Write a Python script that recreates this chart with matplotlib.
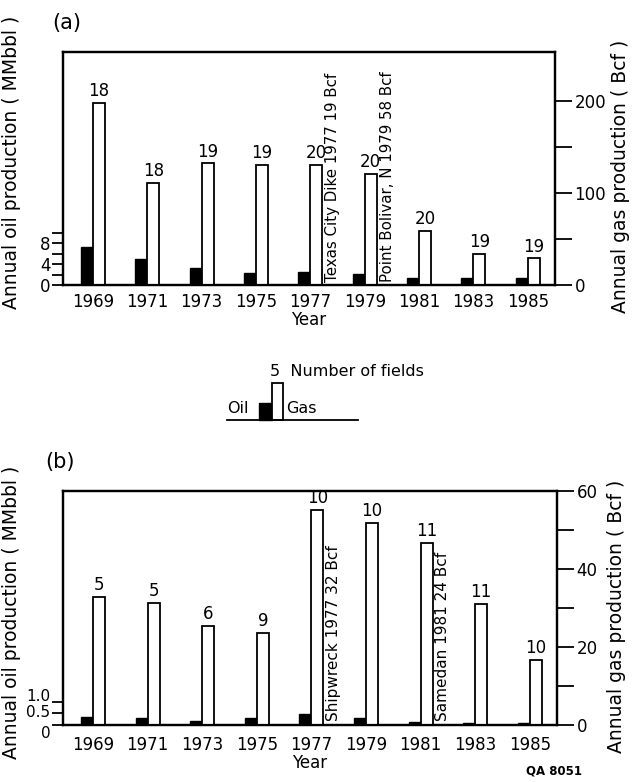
import matplotlib
matplotlib.use('Agg')
import matplotlib.pyplot as plt
from matplotlib.patches import Rectangle
from matplotlib.transforms import ScaledTranslation
import numpy as np

plt.rcParams['font.family'] = ['DejaVu Sans']

years = [1969, 1971, 1973, 1975, 1977, 1979, 1981, 1983, 1985]

# (a) oil in MMbbl, gas in Bcf, number of producing fields
oil_a = [7.3, 4.9, 3.2, 2.3, 2.5, 2.1, 1.3, 1.3, 1.3]
gas_a = [198, 111, 132, 130, 130, 121, 59, 34, 29]
fields_a = [18, 18, 19, 19, 20, 20, 20, 19, 19]
notes_a = [(1977, 'Texas City Dike 1977 19 Bcf'),
           (1979, 'Point Bolivar, N 1979 58 Bcf')]

# (b)
oil_b = [0.35, 0.30, 0.17, 0.30, 0.48, 0.30, 0.13, 0.09, 0.09]
gas_b = [32.8, 31.3, 25.4, 23.6, 55.1, 51.8, 46.7, 31.0, 16.7]
fields_b = [5, 5, 6, 9, 10, 10, 11, 11, 10]
notes_b = [(1977, 'Shipwreck 1977 32 Bcf'),
           (1981, 'Samedan 1981 24 Bcf')]

W, H = 632, 782
fig = plt.figure(figsize=(W / 100, H / 100), dpi=100)


def panel(rect, oil, gas, fields, notes, oil_top, oil_ticks, oil_labels,
          label_shift, label_size, gas_top, gas_major, gas_minor, note_size,
          xpad):
    ax = fig.add_axes(rect)
    ax2 = ax.twinx()
    x = np.array(years, dtype=float)
    w = 0.44
    ax.bar(x - w / 2, oil, w, color='black', edgecolor='black', linewidth=1.0)
    ax2.bar(x + w / 2, gas, w, color='white', edgecolor='black', linewidth=1.3)
    for xi, g, n in zip(x, gas, fields):
        ax2.annotate(str(n), (xi + w / 2, g), xytext=(0, 2),
                     textcoords='offset points', ha='center', va='bottom',
                     fontsize=12)
    for yr, txt in notes:
        ax2.text(yr + 0.82, gas_top * 0.015, txt, rotation=90, ha='center',
                 va='bottom', fontsize=note_size)

    ax.set_xlim(1967.9, 1986.0)
    ax.set_ylim(0, oil_top)
    ax2.set_ylim(0, gas_top)
    ax.set_xticks(years)
    ax.set_xticklabels([str(y) for y in years])
    ax.tick_params(axis='x', length=0, labelsize=12, pad=xpad)
    ax.set_yticks(oil_ticks)
    ax.set_yticklabels(oil_labels)
    ax.tick_params(axis='y', direction='out', length=8, width=1.3,
                   labelsize=label_size, pad=1)
    # hand-lettered labels sit a little off their ticks
    for lab, dy in zip(ax.get_yticklabels(), label_shift):
        lab.set_transform(lab.get_transform()
                          + ScaledTranslation(0, dy / 72, fig.dpi_scale_trans))
    ax2.set_yticks(gas_major)
    ax2.set_yticks(gas_minor, minor=True)
    ax2.tick_params(axis='y', which='both', direction='out', length=12,
                    width=1.3, labelsize=12, pad=2)
    for a in (ax, ax2):
        for s in a.spines.values():
            s.set_linewidth(1.6)
    ax.set_xlabel('Year', fontsize=12, labelpad=0)
    return ax, ax2


# (a)
ax_a, ax2_a = panel([63 / W, 1 - 285 / H, 492 / W, 233 / H],
                    oil_a, gas_a, fields_a, notes_a,
                    44.4, [0, 2, 4, 6, 8, 10], ['0', '', '4', '', '8', ''],
                    [0, 0, 0, 0, 0, 0], 12,
                    253, [0, 100, 200], [50, 150], 10.8, 6)

# (b)
ax_b, ax2_b = panel([63 / W, 1 - 725 / H, 494 / W, 234 / H],
                    oil_b, gas_b, fields_b, notes_b,
                    10.17, [0, 0.5, 1.0], ['0', '0.5', '1.0'],
                    [-5, 2, 5], 11,
                    60, [0, 20, 40, 60], [10, 30, 50], 11, 8)

# axis titles
fig.text(12 / W, 1 - 162 / H, 'Annual oil production ( MMbbl )', rotation=90,
         ha='center', va='center', fontsize=13.5)
fig.text(12 / W, 1 - 612 / H, 'Annual oil production ( MMbbl )', rotation=90,
         ha='center', va='center', fontsize=13.5)
fig.text(620 / W, 1 - 176 / H, 'Annual gas production ( Bcf )', rotation=90,
         ha='center', va='center', fontsize=13.5)
fig.text(616 / W, 1 - 616 / H, 'Annual gas production ( Bcf )', rotation=90,
         ha='center', va='center', fontsize=13.5)

fig.text(52 / W, 1 - 23 / H, '(a)', fontsize=15, va='center')
fig.text(45 / W, 1 - 462 / H, '(b)', fontsize=15, va='center')
fig.text(554 / W, 1 - 771 / H, 'QA 8051', ha='center', va='center',
         fontsize=8.5, fontweight='bold')

# legend key
leg = fig.add_axes([0, 0, 1, 1])
leg.set_xlim(0, W)
leg.set_ylim(H, 0)
leg.axis('off')
leg.plot([227, 358], [420, 420], color='black', lw=1.3)
leg.add_patch(Rectangle((259, 403), 13, 17, facecolor='black',
                        edgecolor='black', lw=1.0))
leg.add_patch(Rectangle((272, 383), 11, 37, facecolor='white',
                        edgecolor='black', lw=1.3))
leg.text(270, 379, '5  Number of fields', fontsize=11.5, va='bottom')
leg.text(227, 416, 'Oil', fontsize=11.5, va='bottom')
leg.text(286, 416, 'Gas', fontsize=11.5, va='bottom')

fig.savefig('out.png', dpi=100)
